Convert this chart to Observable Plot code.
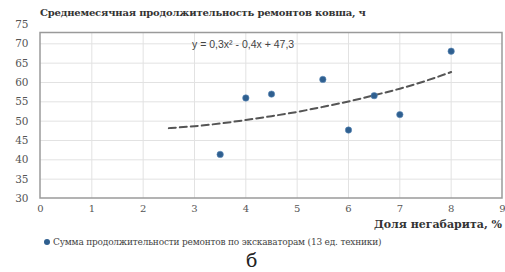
<!DOCTYPE html>
<html><head><meta charset="utf-8">
<script src="https://cdn.jsdelivr.net/npm/d3@7"></script>
<script src="https://cdn.jsdelivr.net/npm/@observablehq/plot@0.6"></script>
<style>
body{margin:0;background:#fff;}
#wrap{position:relative;width:505px;height:272px;overflow:hidden;}
.t{position:absolute;white-space:nowrap;font-family:'DejaVu Serif',serif;color:#222;line-height:1;}
svg text{font-family:'DejaVu Serif',serif;}
</style></head>
<body><div id="wrap"></div>
<script>
const shareX = [3.5, 4, 4.5, 5.5, 6, 6.5, 7, 8];
const repairHours = [41.4, 56.0, 57.0, 60.8, 47.7, 56.6, 51.7, 68.1];
const trendX = [2.5, 3, 3.5, 4, 4.5, 5, 5.5, 6, 6.5, 7, 7.5, 8];
const trendY = [48.2, 48.7, 49.4, 50.3, 51.3, 52.4, 53.7, 55.1, 56.7, 58.4, 60.4, 62.7];
const xTicks = [0,1,2,3,4,5,6,7,8,9];
const yTicks = [30,35,40,45,50,55,60,65,70,75];
const xGrid = [1,2,3,4,5,6,7,8];
const yGrid = [35,40,45,50,55,60,65,70];
const titleText = "Среднемесячная продолжительность ремонтов ковша, ч";
const equationText = "y = 0,3x² - 0,4x + 47,3";
const xTitleText = "Доля негабарита, %";
const legendText = "Сумма продолжительности ремонтов по экскаваторам (13 ед. техники)";
const panelLabel = "б";

const pts = shareX.map((x,i)=>({x, y: repairHours[i]}));
const trend = trendX.map((x,i)=>({x, y: trendY[i]}));
const frameBox = [{x1:0, x2:9, y1:30, y2:72.8}];

const chart = Plot.plot({
  width: 505, height: 272,
  marginLeft: 40, marginRight: 3, marginTop: 24, marginBottom: 74,
  x: {domain: [0, 9], axis: null},
  y: {domain: [30, 75], axis: null},
  style: {fontFamily: "'DejaVu Serif', serif", background: "white"},
  marks: [
    Plot.ruleX(xGrid, {y1: 30, y2: 72.8, stroke: "#e2e2e2", strokeWidth: 1}),
    Plot.ruleY(yGrid, {x1: 0, x2: 9, stroke: "#e2e2e2", strokeWidth: 1}),
    Plot.rect(frameBox, {x1: "x1", x2: "x2", y1: "y1", y2: "y2", fill: "none", stroke: "#9a9a9a", strokeWidth: 1.5}),
    Plot.axisX(xTicks, {y: 30, tickSize: 0, tickPadding: 6, anchor: "bottom", fontSize: 10, fill: "#555", label: null}),
    Plot.axisY(yTicks, {tickSize: 0, tickPadding: 12, anchor: "left", fontSize: 10.5, fill: "#555", label: null}),
    Plot.line(trend, {x: "x", y: "y", curve: "natural", stroke: "#555", strokeWidth: 2, strokeDasharray: "7,4"}),
    Plot.dot(pts, {x: "x", y: "y", r: 3.2, fill: "#2f5f8f", stroke: "#5c8ab8", strokeWidth: 0.6})
  ]
});
const wrap = document.getElementById("wrap");
wrap.appendChild(chart);

function addText(txt, css){
  const d = document.createElement("div");
  d.className = "t";
  d.textContent = txt;
  Object.assign(d.style, css);
  wrap.appendChild(d);
  return d;
}
addText(titleText, {left: "40px", top: "8px", fontSize: "10px", fontWeight: "bold", color: "#333", letterSpacing: "-0.2px"});
addText(equationText, {left: "192px", top: "39px", fontSize: "10.5px", fontFamily: "'Liberation Sans', Arial, sans-serif", color: "#444"});
addText(xTitleText, {right: "3px", top: "219px", fontSize: "11px", fontWeight: "bold", color: "#333"});
const leg = addText("", {left: "44px", top: "238px", fontSize: "9px", color: "#444", letterSpacing: "-0.2px"});
leg.innerHTML = '<span style="display:inline-block;width:6px;height:6px;border-radius:50%;background:#2f5f8f;margin-right:3px;vertical-align:0px"></span>' + legendText;
addText(panelLabel, {left: "246px", top: "251px", fontSize: "19px", color: "#222"});
</script>
</body></html>
